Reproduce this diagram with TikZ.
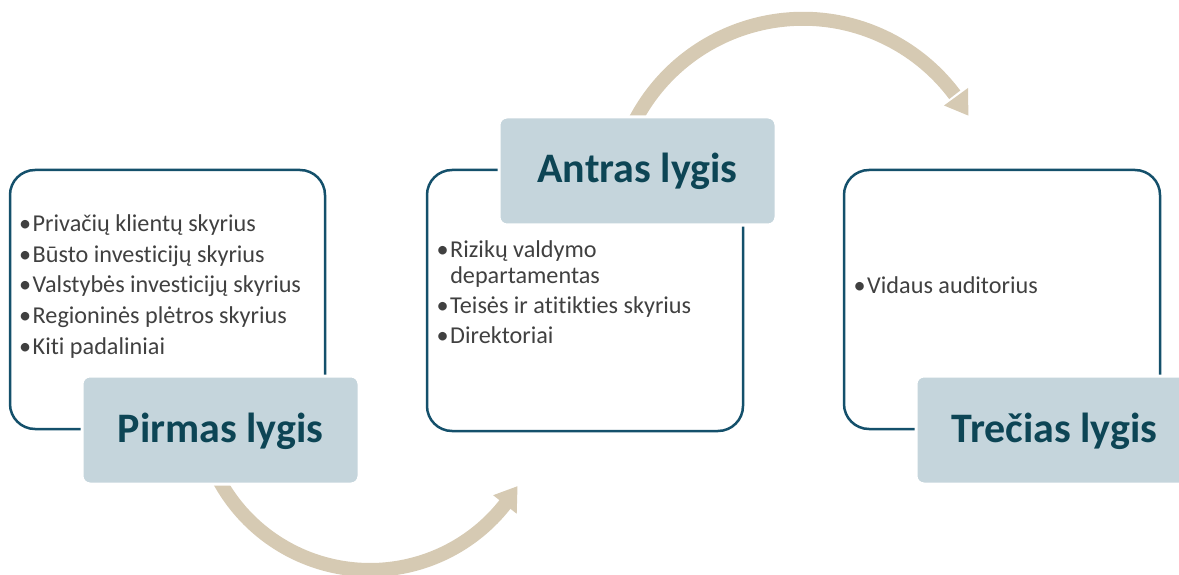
\documentclass[tikz,border=0pt]{standalone}
\usepackage{fontspec}
\setmainfont{Carlito}[Ligatures=CommonOff]
\definecolor{outline}{HTML}{14506B}
\definecolor{labfill}{HTML}{C5D5DC}
\definecolor{titlecol}{HTML}{0D4555}
\definecolor{bodycol}{HTML}{404040}
\definecolor{bandcol}{HTML}{D6CAB3}
\newcommand{\bul}{•\kern1.5pt}
\begin{document}
\begin{tikzpicture}[x=1pt,y=-1pt,
  outbox/.style={draw=outline, line width=2.5pt, rounded corners=25pt, inner sep=0pt},
  labbox/.style={fill=labfill, draw=white, line width=3pt, rounded corners=8pt,
    minimum width=277pt, minimum height=108pt, inner sep=0pt,
    text height=30pt, text depth=6pt, text=titlecol,
    font=\fontsize{42}{46}\selectfont\bfseries},
  item/.style={anchor=base west, inner sep=0pt, text=bodycol,
    font=\fontsize{24.2}{28}\selectfont},
  bandline/.style={draw=bandcol, line width=14pt},
  bandhead/.style={fill=bandcol}]
\useasboundingbox (0,0) rectangle (1179,575);

% connectors (circular arrows)
\coordinate (cB) at (370,398.3);
\coordinate (cT) at (803,208.3);
\begin{scope}[shift={(cB)}]
  \draw[bandline] (152:171.7) arc[start angle=152, end angle=37.5, radius=171.7];
  \fill[bandhead] (38.2:156.7) -- (30.8:171.7) -- (38.2:186.7) -- cycle;
\end{scope}
\begin{scope}[shift={(cT)}]
  \draw[bandline] (-153:189.5) arc[start angle=-153, end angle=-36.8, radius=189.5];
  \fill[bandhead] (-36.1:174.5) -- (-29.3:189.5) -- (-36.1:204.5) -- cycle;
\end{scope}

% outline boxes
\node[outbox, minimum width=315pt, minimum height=259pt] (box1) at (167.5,299.5) {};
\node[outbox, minimum width=316pt, minimum height=261pt] (box2) at (585,300.5) {};
\node[outbox, minimum width=316pt, minimum height=259pt] (box3) at (1002,299.5) {};

% labels
\node[labbox] (lab1) at (220.5,430) {Pirmas lygis};
\node[labbox] (lab2) at (637.5,171) {Antras lygis};
\node[labbox] (lab3) at (1054.5,430) {Trečias lygis};

% items box 1
\node[item] (i11) at (19,231) {\bul Privačių klientų skyrius};
\node[item] (i12) at (19,262) {\bul Būsto investicijų skyrius};
\node[item] (i13) at (19,292.5) {\bul Valstybės investicijų skyrius};
\node[item] (i14) at (19,323) {\bul Regioninės plėtros skyrius};
\node[item] (i15) at (19,354) {\bul Kiti padaliniai};

% items box 2
\node[item] (i21) at (436.5,257) {\bul Rizikų valdymo};
\node[item] (i22) at (436.5,283) {\phantom{\bul}departamentas};
\node[item] (i23) at (436.5,313) {\bul Teisės ir atitikties skyrius};
\node[item] (i24) at (436.5,343) {\bul Direktoriai};

% items box 3
\node[item] (i31) at (853.5,293) {\bul Vidaus auditorius};
\end{tikzpicture}
\end{document}
